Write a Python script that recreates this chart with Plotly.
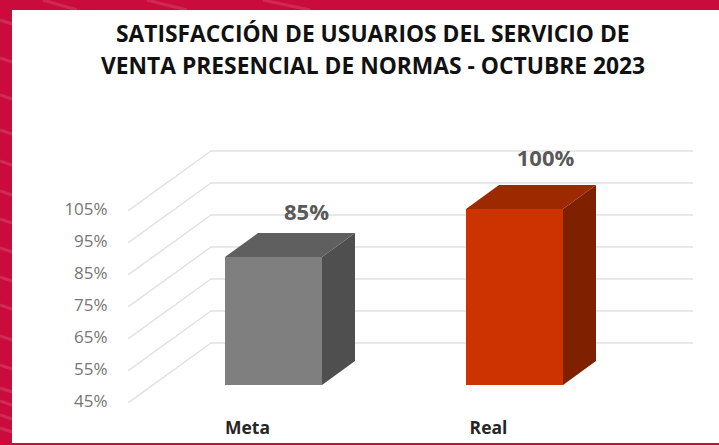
import plotly.graph_objects as go

W, H = 719, 445

# Data
categories = ["Meta", "Real"]
values = [85, 100]
value_labels = ["85%", "100%"]
tick_values = [45, 55, 65, 75, 85, 95, 105]
tick_labels = ["45%", "55%", "65%", "75%", "85%", "95%", "105%"]
front_colors = ["#7f7f7f", "#cc3300"]
top_colors = ["#5f5f5f", "#9c2900"]
side_colors = ["#4f4f4f", "#7f2000"]
title_lines = ["SATISFACCIÓN DE USUARIOS DEL SERVICIO DE",
               "VENTA PRESENCIAL DE NORMAS - OCTUBRE 2023"]

# Projection (pixels -> data units on the bar plane)
PX_X = 241.0      # pixels per category
PX_Y = 3.2        # pixels per percent
BAR_HALF = 48.5 / PX_X
BAR_DX = 33 / PX_X
BAR_DY = 24 / PX_Y
FRONT_DX, FRONT_DY = -25 / PX_X, -18 / PX_Y
BACK_DX, BACK_DY = 58 / PX_X, 42 / PX_Y
LABEL_GAP_X = [0, -2 / PX_X]
LABEL_GAP_Y = [19 / PX_Y, 25 / PX_Y]
BASE = tick_values[0]
X_LO, X_HI = -0.5, 1.5
Y_HI = 125

def px(v):
    return v / W

def py(v):
    return 1 - v / H

fig = go.Figure()

# Walls: gridlines on floor/side/back (lowest subplot, behind the bars)
for t in tick_values:
    fig.add_trace(go.Scatter(
        x=[X_LO + FRONT_DX, X_LO + BACK_DX, X_HI + BACK_DX],
        y=[t + FRONT_DY, t + BACK_DY, t + BACK_DY],
        mode="lines", line=dict(color="#e2e2e2", width=1.5),
        hoverinfo="skip", showlegend=False,
        xaxis="x", yaxis="y"))

# Bars
fig.add_trace(go.Bar(
    x=list(range(len(categories))),
    y=[v - BASE for v in values], base=BASE,
    width=2 * BAR_HALF,
    marker=dict(color=front_colors, line=dict(width=0)),
    hoverinfo="skip", showlegend=False, xaxis="x2", yaxis="y2"))

for i, (c, v) in enumerate(zip(categories, values)):
    l, r = i - BAR_HALF, i + BAR_HALF
    fig.add_trace(go.Scatter(
        x=[r, r + BAR_DX, r + BAR_DX, r, r],
        y=[BASE, BASE + BAR_DY, v + BAR_DY, v, BASE],
        fill="toself", fillcolor=side_colors[i], mode="lines",
        line=dict(width=0), hoverinfo="skip", showlegend=False,
        xaxis="x2", yaxis="y2"))
    fig.add_trace(go.Scatter(
        x=[l, l + BAR_DX, r + BAR_DX, r, l],
        y=[v, v + BAR_DY, v + BAR_DY, v, v],
        fill="toself", fillcolor=top_colors[i], mode="lines",
        line=dict(width=0), hoverinfo="skip", showlegend=False,
        xaxis="x2", yaxis="y2"))

# Value labels
fig.add_trace(go.Scatter(
    x=[i + BAR_DX + LABEL_GAP_X[i] for i in range(len(values))],
    y=[v + BAR_DY + LABEL_GAP_Y[i] for i, v in enumerate(values)],
    text=value_labels, mode="text", textposition="middle center",
    textfont=dict(family="Open Sans", size=22, color="#595959", weight="bold"),
    hoverinfo="skip", showlegend=False, cliponaxis=False,
    xaxis="x2", yaxis="y2"))

# Front-plane axes only carry the tick labels
fig.add_trace(go.Scatter(x=[0, 1], y=[BASE, BASE], xaxis="x3", yaxis="y3",
                         mode="markers", marker=dict(opacity=0),
                         hoverinfo="skip", showlegend=False))

# Background streaks on the red frame
streaks = []
for y0 in [22, 60, 97, 132, 163, 193, 221, 250, 279, 307, 338, 367, 390, 403, 417, 430]:
    streaks.append(dict(type="line", xref="paper", yref="paper", layer="below",
                        x0=0, x1=px(12), y0=py(y0 - 2), y1=py(y0 + 2),
                        line=dict(color="rgba(255,255,255,0.13)", width=3)))
for x0, x1 in [(43, 77), (147, 187), (263, 310)]:
    streaks.append(dict(type="line", xref="paper", yref="paper", layer="below",
                        x0=px(x0), x1=px(x1), y0=py(0), y1=py(10),
                        line=dict(color="rgba(255,255,255,0.12)", width=3)))

panel = dict(type="rect", xref="paper", yref="paper", layer="below",
             x0=px(12), x1=1, y0=py(443), y1=py(10),
             fillcolor="#ffffff", line=dict(width=0))

title_font = dict(family="Open Sans", size=22.8, color="#111111")

plane_x = dict(domain=[px(128), px(693)], range=[X_LO + FRONT_DX, X_HI + BACK_DX],
               visible=False, fixedrange=True, automargin=False)
plane_y = dict(domain=[py(403), py(129)], range=[BASE + FRONT_DY, Y_HI],
               visible=False, fixedrange=True, automargin=False)

fig.update_layout(
    width=W, height=H, margin=dict(l=0, r=0, t=0, b=0), autosize=False,
    paper_bgcolor="#c90c3c", plot_bgcolor="rgba(0,0,0,0)",
    barmode="overlay",
    xaxis=plane_x,
    yaxis=plane_y,
    xaxis2=dict(plane_x, anchor="y2", overlaying="x"),
    yaxis2=dict(plane_y, anchor="x2", overlaying="y"),
    xaxis3=dict(domain=[px(127), px(609)], range=[X_LO, X_HI], anchor="y3",
                tickmode="array", tickvals=[0, 1], ticktext=categories,
                showgrid=False, zeroline=False, showline=False,
                ticks="outside", ticklen=11, tickcolor="rgba(0,0,0,0)",
                tickfont=dict(family="Open Sans", size=17.5, color="#262626", weight="bold"),
                fixedrange=True, automargin=False),
    yaxis3=dict(domain=[py(401), py(145)], range=[BASE, Y_HI], anchor="x3",
                tickmode="array", tickvals=tick_values, ticktext=tick_labels,
                showgrid=False, zeroline=False, showline=False,
                ticks="outside", ticklen=15, tickcolor="rgba(0,0,0,0)",
                tickfont=dict(family="Open Sans", size=17, color="#767676"),
                fixedrange=True, automargin=False),
    shapes=streaks + [panel],
    annotations=[dict(
        xref="paper", yref="paper", x=px(373), y=py(yc), xanchor="center", yanchor="middle",
        text="<b>" + line + "</b>", showarrow=False, align="center", font=title_font)
        for line, yc in zip(title_lines, [33, 65])],
)

fig.write_html("out.html", config=dict(displayModeBar=False, responsive=False),
               post_script="document.documentElement.style.overflow='hidden';"
                           "document.body.style.margin='0';"
                           "document.body.style.overflow='hidden';")
